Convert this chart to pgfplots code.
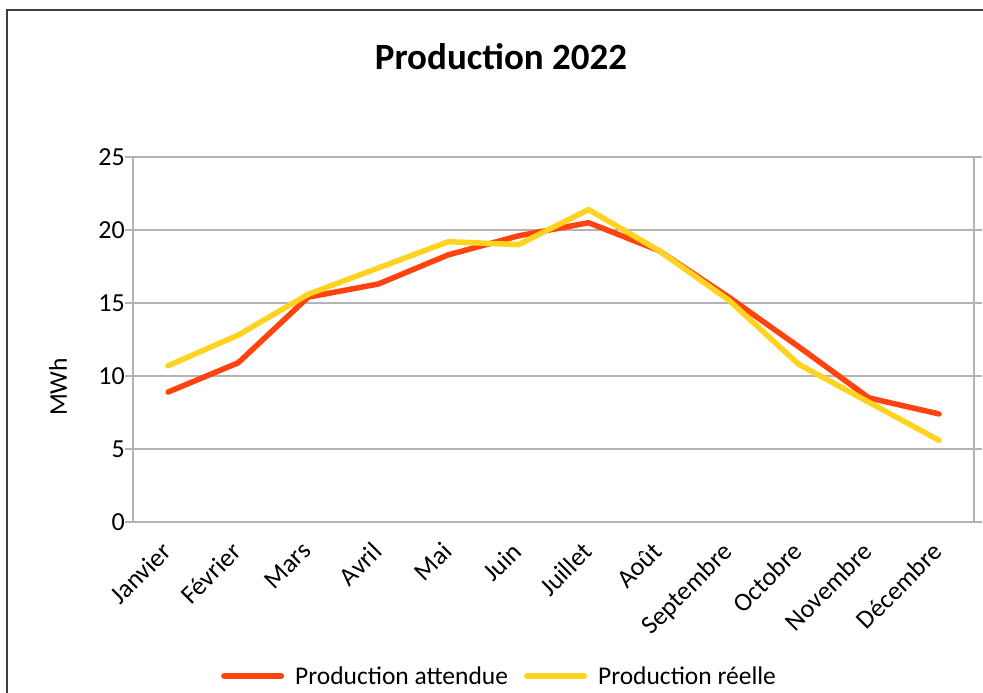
\documentclass[border=0pt]{standalone}
\usepackage{fontspec}
\setmainfont{Carlito}
\usepackage{pgfplots}
\pgfplotsset{compat=1.18}

\definecolor{attendue}{HTML}{FF420E}
\definecolor{reelle}{HTML}{FFD320}
\definecolor{gridgray}{HTML}{B3B3B3}
\definecolor{framegray}{HTML}{3C3C3C}

\begin{document}
\begin{tikzpicture}[x=1pt,y=1pt]
\useasboundingbox (0,0) rectangle (983,693);
\fill[white] (0,0) rectangle (983,693);
\draw[framegray, line width=1.5pt] (7,-2) -- (7,683) -- (985,683);

\begin{axis}[
    at={(133pt,171pt)}, anchor=south west,
    scale only axis,
    width=841pt, height=365pt,
    xmin=-0.5, xmax=11.5,
    ymin=0, ymax=25,
    xtick={0,...,11},
    xticklabels={Janvier,Février,Mars,Avril,Mai,Juin,Juillet,Août,Septembre,Octobre,Novembre,Décembre},
    ytick={0,5,10,15,20,25},
    axis line style={gridgray, line width=1.3pt},
    ymajorgrids,
    major grid style={gridgray, line width=1.2pt},
    tick align=outside,
    major tick length=8pt,
    x tick style={draw=none},
    y tick style={gridgray, line width=1.2pt},
    tick label style={font=\fontsize{26}{30}\selectfont, black},
    /pgf/number format/assume math mode=true,
    yticklabel style={inner sep=0pt, xshift=0pt},
    xticklabel style={rotate=45, anchor=north east, inner sep=0pt, yshift=-2pt, xshift=-13pt},
    legend style={
        at={(0.101,-0.422)}, anchor=west,
        draw=none, fill=none,
        font=\fontsize{25.5}{30}\selectfont,
        legend columns=2,
        /tikz/every odd column/.append style={column sep=9pt},
        /tikz/every even column/.append style={column sep=14pt},
        cells={anchor=west},
    },
    legend image code/.code={
        \draw[#1, line width=6pt, line cap=round] (0pt,0pt) -- (57pt,0pt);
    },
]
\addplot[attendue, line width=5.5pt, line join=round, line cap=round] coordinates {
(0,8.9) (1,10.9) (2,15.4) (3,16.3) (4,18.3) (5,19.6)
(6,20.5) (7,18.6) (8,15.4) (9,12.0) (10,8.5) (11,7.4)
};
\addlegendentry{Production attendue}
\addplot[reelle, line width=5.5pt, line join=round, line cap=round] coordinates {
(0,10.7) (1,12.8) (2,15.6) (3,17.4) (4,19.2) (5,19.0)
(6,21.4) (7,18.6) (8,15.2) (9,10.8) (10,8.2) (11,5.6)
};
\addlegendentry{Production réelle}
\end{axis}

\node[anchor=base, font=\fontsize{37}{42}\selectfont\bfseries] at (501,623) {Production 2022};
\node[rotate=90, font=\fontsize{25.5}{30}\selectfont] at (58,306) {MWh};
\end{tikzpicture}
\end{document}
